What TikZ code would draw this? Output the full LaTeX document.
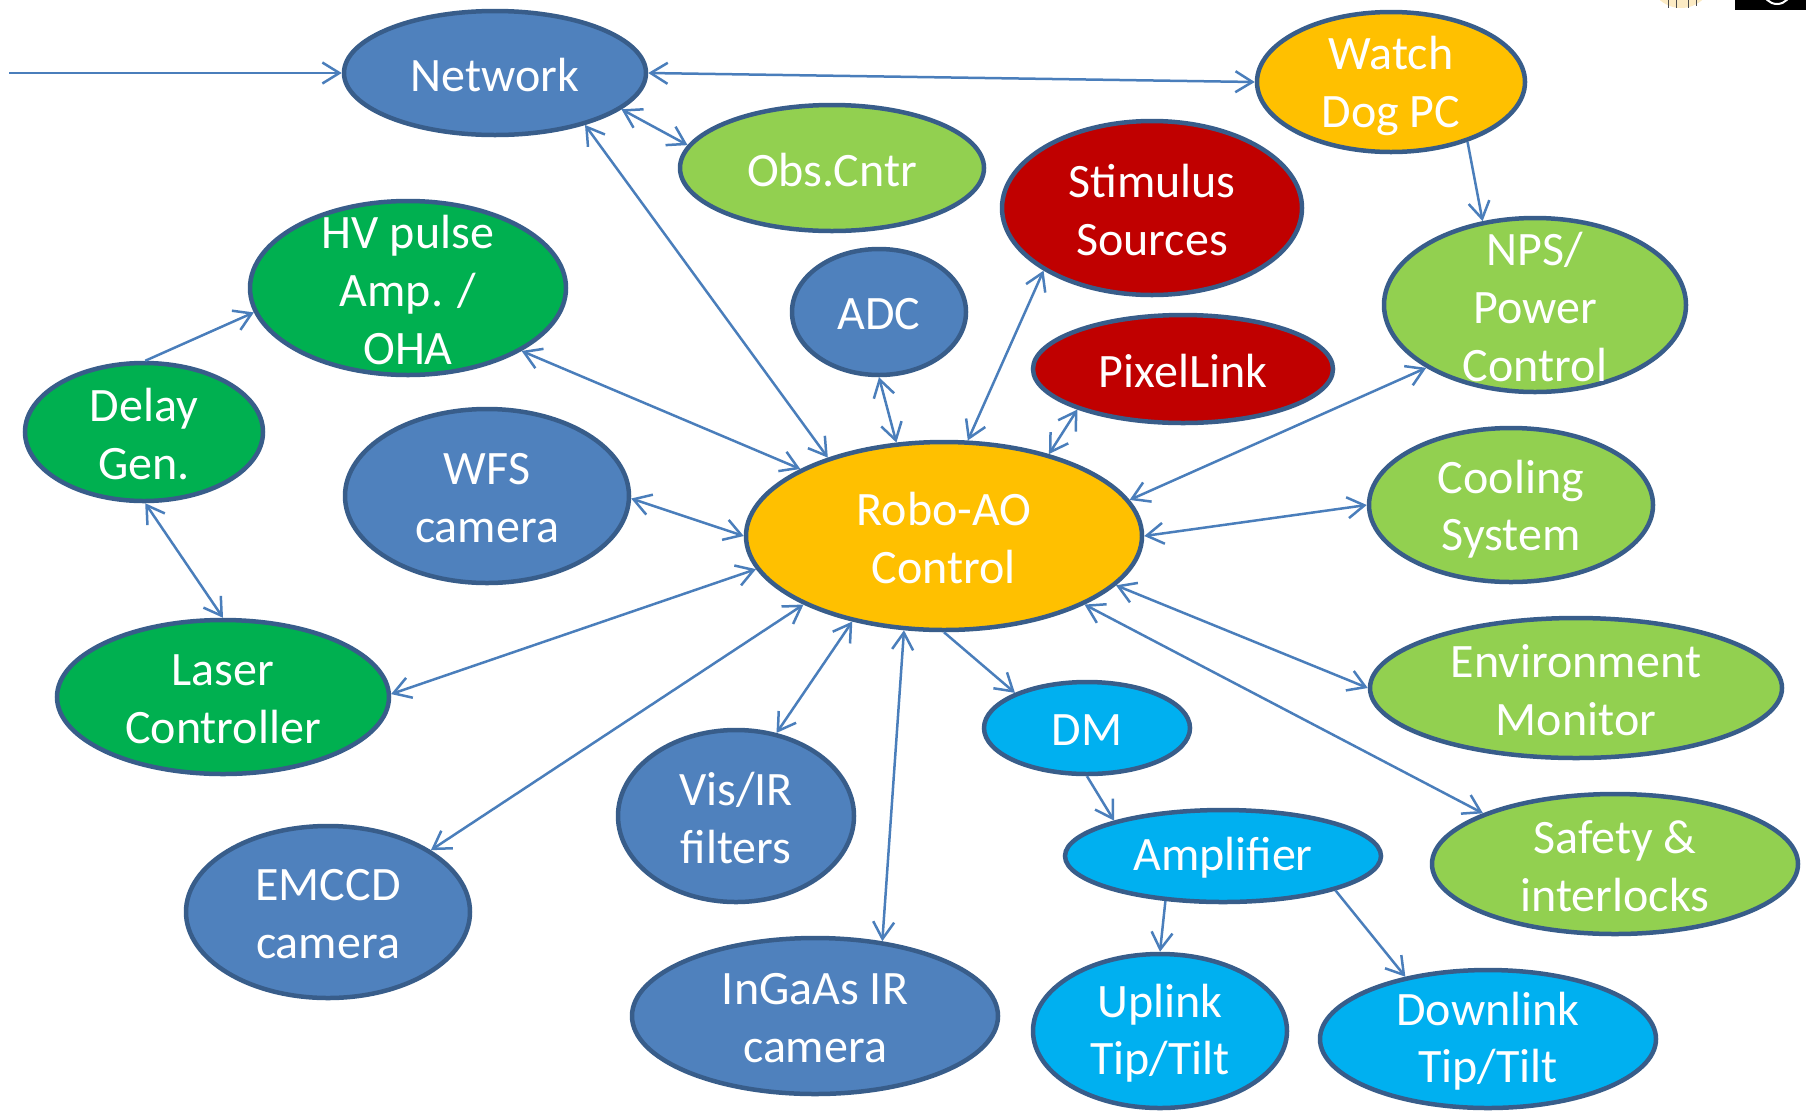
\documentclass[tikz,border=0pt]{standalone}
\usepackage{fontspec}
\setmainfont{Carlito}
\usetikzlibrary{shapes.geometric,arrows.meta}
\definecolor{bordc}{HTML}{385D8A}
\definecolor{arrc}{HTML}{4A7EBB}
\definecolor{cblue}{HTML}{4F81BD}
\definecolor{corange}{HTML}{FFC000}
\definecolor{clgreen}{HTML}{92D050}
\definecolor{cred}{HTML}{C00000}
\definecolor{cgreen}{HTML}{00B050}
\definecolor{ccyan}{HTML}{00B0F0}
\definecolor{ccream}{HTML}{FCEBC4}
\newcommand\lblfont{\fontsize{48}{57.6}\selectfont}
\tikzset{
  ell/.style={ellipse, draw=bordc, line width=4.5pt, inner sep=0pt},
  lab/.style={text=white, align=center, font=\lblfont, inner sep=0pt, yshift=-2pt},
  con/.style={draw=arrc, line width=2.5pt},
  >={Straight Barb[length=17pt,width=21pt]},
}
\begin{document}
\begin{tikzpicture}[x=1pt,y=-1pt]
\useasboundingbox (0,0) rectangle (1806,1112);
\begin{scope}
\clip (0,0) rectangle (1806,1112);
% partial logos at top-right corner
\fill[ccream] (1681,-24) circle[radius=32];
\draw[black!70, line width=0.8pt] (1668,0) -- (1668,8) (1676,0) -- (1676,8) (1688,0) -- (1688,8) (1696,0) -- (1696,6);
\fill[black] (1735,0) rectangle (1806,10);
\draw[white, line width=2pt] (1777,-10) circle[radius=14];

% ellipses
\node[ell, fill=cblue,   minimum width=302, minimum height=124] (net)    at (495,73)   {};
\node[ell, fill=corange, minimum width=268, minimum height=140] (wd)     at (1391,82)  {};
\node[ell, fill=clgreen, minimum width=304, minimum height=126] (obs)    at (832,168)  {};
\node[ell, fill=cred,    minimum width=300, minimum height=174] (stim)   at (1152,208) {};
\node[ell, fill=cgreen,  minimum width=316, minimum height=174] (hv)     at (408,288)  {};
\node[ell, fill=cblue,   minimum width=174, minimum height=126] (adc)    at (879,312)  {};
\node[ell, fill=clgreen, minimum width=302, minimum height=174] (nps)    at (1535,305) {};
\node[ell, fill=cred,    minimum width=300, minimum height=108] (pix)    at (1183,369) {};
\node[ell, fill=cgreen,  minimum width=238, minimum height=138] (delay)  at (144,432)  {};
\node[ell, fill=cblue,   minimum width=284, minimum height=174] (wfs)    at (487,496)  {};
\node[ell, fill=corange, minimum width=396, minimum height=188] (robo)   at (944,536)  {};
\node[ell, fill=clgreen, minimum width=284, minimum height=154] (cool)   at (1511,505) {};
\node[ell, fill=cgreen,  minimum width=332, minimum height=154] (laser)  at (223,697)  {};
\node[ell, fill=clgreen, minimum width=412, minimum height=140] (env)    at (1576,688) {};
\node[ell, fill=ccyan,   minimum width=206, minimum height=92]  (dm)     at (1087,728) {};
\node[ell, fill=cblue,   minimum width=236, minimum height=172] (vis)    at (736,816)  {};
\node[ell, fill=ccyan,   minimum width=316, minimum height=92]  (amp)    at (1223,856) {};
\node[ell, fill=clgreen, minimum width=366, minimum height=140] (safe)   at (1615,864) {};
\node[ell, fill=cblue,   minimum width=284, minimum height=172] (emccd)  at (328,912)  {};
\node[ell, fill=cblue,   minimum width=366, minimum height=156] (ingaas) at (815,1016) {};
\node[ell, fill=ccyan,   minimum width=254, minimum height=154] (up)     at (1160,1031){};
\node[ell, fill=ccyan,   minimum width=336, minimum height=138] (down)   at (1488,1039){};

% labels
\node[lab] (net-t)    at (net)    {Network};
\node[lab, yshift=-2pt] (wd-t) at (wd) {Watch\\Dog PC};
\node[lab] (obs-t)    at (obs)    {Obs.Cntr};
\node[lab] (stim-t)   at (stim)   {Stimulus\\Sources};
\node[lab] (hv-t)     at (hv)     {HV pulse\\Amp. /\\OHA};
\node[lab] (adc-t)    at (adc)    {ADC};
\node[lab] (nps-t)    at (nps)    {NPS/\\Power\\Control};
\node[lab] (pix-t)    at (pix)    {PixelLink};
\node[lab] (delay-t)  at (delay)  {Delay\\Gen.};
\node[lab] (wfs-t)    at (wfs)    {WFS\\camera};
\node[lab] (robo-t)   at (robo)   {Robo-AO\\Control};
\node[lab, yshift=-2pt] (cool-t) at (cool) {Cooling\\System};
\node[lab] (laser-t)  at (laser)  {Laser\\Controller};
\node[lab] (env-t)    at (env)    {Environment\\Monitor};
\node[lab] (dm-t)     at (dm)     {DM};
\node[lab] (vis-t)    at (vis)    {Vis/IR\\filters};
\node[lab] (amp-t)    at (amp)    {Amplifier};
\node[lab] (safe-t)   at (safe)   {Safety \&\\interlocks};
\node[lab] (emccd-t)  at (emccd)  {EMCCD\\camera};
\node[lab] (ingaas-t) at (ingaas) {InGaAs IR\\camera};
\node[lab] (up-t)     at (up)     {Uplink\\Tip/Tilt};
\node[lab] (down-t)   at (down)   {Downlink\\Tip/Tilt};

% connectors
\coordinate (src) at (9,73);
\draw[con,->]  (src) -- (net.180);
\draw[con,<->] (net.0) -- (wd.180);
\draw[con,<->] (net.-16) -- (obs.171);
\draw[con,<->] (net.-30) -- (robo.146);
\draw[con,->]  (wd.-38) -- (nps.122);
\draw[con,<->] (stim.210) -- (robo.76);
\draw[con,<->] (pix.201) -- (robo.38);
\draw[con,<->] (adc.270) -- (robo.117);
\draw[con,<->] (hv.-29) -- (robo.155);
\draw[con,->]  (delay.89) -- (hv.189);
\draw[con,<->] (delay.271) -- (laser.90);
\draw[con,<->] (wfs.-1) -- (robo.180);
\draw[con,<->] (laser.1) -- (robo.190);
\draw[con,<->] (emccd.31) -- (robo.206);
\draw[con,<->] (vis.64) -- (robo.223);
\draw[con,<->] (ingaas.48) -- (robo.247);
\draw[con,->]  (robo.270) -- (dm.154);
\draw[con,->]  (dm.270) -- (amp.162);
\draw[con,->]  (amp.218) -- (up.90);
\draw[con,->]  (amp.-17) -- (down.143);
\draw[con,<->] (robo.11) -- (nps.210);
\draw[con,<->] (robo.0) -- (cool.180);
\draw[con,<->] (robo.-16) -- (env.180);
\draw[con,<->] (robo.-26) -- (safe.159);
\end{scope}
\end{tikzpicture}
\end{document}
